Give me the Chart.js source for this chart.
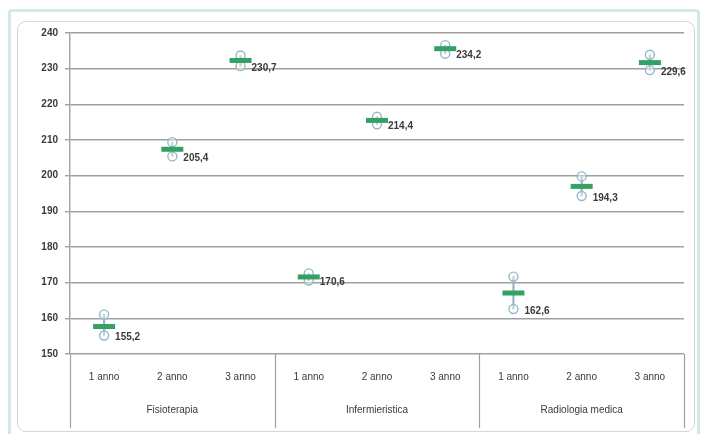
<!DOCTYPE html>
<html>
<head>
<meta charset="utf-8">
<script src="https://cdn.jsdelivr.net/npm/chart.js@4/dist/chart.umd.min.js"></script>
<style>
  html, body { margin: 0; padding: 0; background: #fff; }
  #wrap { position: relative; width: 704px; height: 434px; overflow: hidden; }
  .frame-outer { position: absolute; left: 8px; top: 9px; width: 686px; height: 424px;
    border: 3px solid #d4e8eb; border-radius: 4px; }
  .frame-inner { position: absolute; left: 17px; top: 21px; width: 676px; height: 409px;
    border: 1px solid #d6d6d6; border-radius: 9px; }
  canvas { position: absolute; left: 0; top: 0; }
</style>
</head>
<body>
<div id="wrap">
  <div class="frame-outer"></div>
  <div class="frame-inner"></div>
  <canvas id="c" width="704" height="434"></canvas>
</div>
<script>
// Min / mean / max per course year; the printed number is the minimum.
const years = ["1 anno", "2 anno", "3 anno", "1 anno", "2 anno", "3 anno", "1 anno", "2 anno", "3 anno"];
const groups = ["Fisioterapia", "Infermieristica", "Radiologia medica"];
const highs = [161.1, 209.4, 233.7, 172.6, 216.5, 236.6, 171.7, 199.8, 233.9];
const means = [157.7, 207.4, 232.3, 171.6, 215.5, 235.6, 167.1, 197.0, 231.7];
const lows  = [155.2, 205.4, 230.7, 170.6, 214.4, 234.2, 162.6, 194.3, 229.6];
const lowLabels = ["155,2", "205,4", "230,7", "170,6", "214,4", "234,2", "162,6", "194,3", "229,6"];

const gridCol = "#a0a0a0";
const txtCol = "#3a3a3a";

// group row under the year labels, with separators
const groupAxis = {
  id: "groupAxis",
  afterDraw(chart) {
    const { ctx, chartArea: a, scales: { x } } = chart;
    const per = years.length / groups.length;
    const bounds = [a.left];
    for (let g = 1; g < groups.length; g++) {
      bounds.push((x.getPixelForValue(g * per - 1) + x.getPixelForValue(g * per)) / 2);
    }
    bounds.push(a.right);
    ctx.save();
    ctx.strokeStyle = gridCol;
    ctx.lineWidth = 1.2;
    bounds.forEach((bx) => {
      ctx.beginPath();
      ctx.moveTo(Math.round(bx) + 0.5, a.bottom);
      ctx.lineTo(Math.round(bx) + 0.5, 428);
      ctx.stroke();
    });
    ctx.fillStyle = txtCol;
    ctx.font = "10px 'Liberation Sans Narrow', 'Liberation Sans', Arial";
    ctx.textAlign = "center";
    ctx.textBaseline = "middle";
    groups.forEach((g, i) => ctx.fillText(g, (bounds[i] + bounds[i + 1]) / 2, 410));
    ctx.restore();
  },
};

// value labels beside the low point
const lowText = {
  id: "lowText",
  afterDatasetsDraw(chart) {
    const { ctx, scales: { x, y } } = chart;
    ctx.save();
    ctx.fillStyle = txtCol;
    ctx.font = "bold 10px 'Liberation Sans Narrow', 'Liberation Sans', Arial";
    ctx.textAlign = "left";
    ctx.textBaseline = "middle";
    lows.forEach((v, i) => ctx.fillText(lowLabels[i], x.getPixelForValue(i) + 11, y.getPixelForValue(v) + 2));
    ctx.restore();
  },
};

new Chart(document.getElementById("c"), {
  type: "bar",
  data: {
    labels: years,
    datasets: [
      { type: "line", label: "Media", data: means, showLine: false, pointStyle: "line",
        pointRadius: 11, pointBorderWidth: 5, borderColor: "#33a064", order: 0 },
      { type: "line", label: "Max", data: highs, showLine: false, pointStyle: "circle",
        pointRadius: 4.5, pointBorderWidth: 1.4, borderColor: "#93b9c9", backgroundColor: "rgba(255,255,255,0.4)", order: 1 },
      { type: "line", label: "Min", data: lows, showLine: false, pointStyle: "circle",
        pointRadius: 4.5, pointBorderWidth: 1.4, borderColor: "#93b9c9", backgroundColor: "rgba(255,255,255,0.4)", order: 1 },
      { label: "Range", data: lows.map((l, i) => [l, highs[i]]), backgroundColor: "#9ab2c0",
        barThickness: 1.5, order: 2 },
    ],
  },
  options: {
    responsive: false,
    animation: false,
    layout: { padding: { left: 0, top: 33, right: 20, bottom: 0 } },
    plugins: { legend: { display: false }, tooltip: { enabled: false } },
    scales: {
      x: {
        grid: { display: false },
        border: { display: false },
        ticks: { color: txtCol, padding: 9, maxRotation: 0,
          font: { size: 10, family: "'Liberation Sans Narrow', 'Liberation Sans', Arial" } },
        afterFit: (s) => { s.height = 80; },
      },
      y: {
        min: 150, max: 240,
        ticks: { stepSize: 10, color: txtCol, padding: 7,
          font: { size: 10, weight: "bold", family: "'Liberation Sans', Arial" } },
        grid: { color: gridCol, lineWidth: 1.4, tickLength: 5 },
        border: { color: gridCol, width: 1.4 },
        afterFit: (s) => { s.width = 70; },
      },
    },
  },
  plugins: [groupAxis, lowText],
});
</script>
</body>
</html>
